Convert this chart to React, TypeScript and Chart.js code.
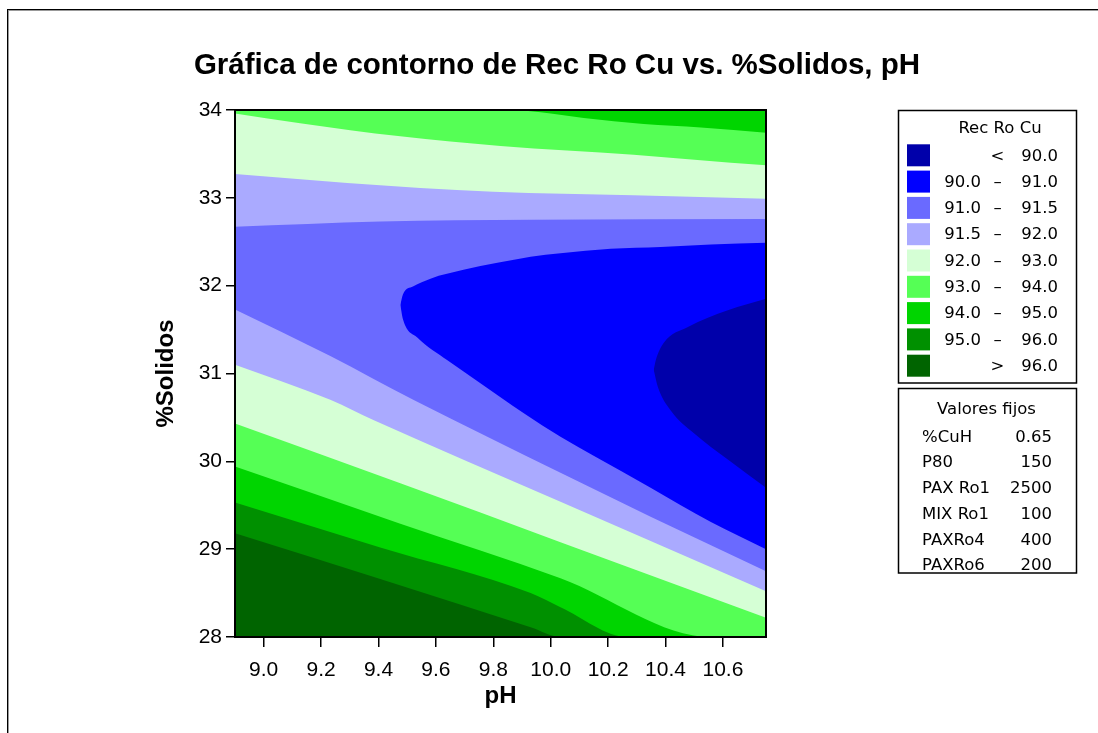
import React, { useEffect, useRef } from 'react';
import { Chart, registerables } from 'chart.js';

Chart.register(...registerables);

// ---------- texts ----------
const titleText = 'Gráfica de contorno de Rec Ro Cu vs. %Solidos, pH';
const xTitle = 'pH';
const yTitle = '%Solidos';

// ---------- axes ----------
const pHRange = [8.9, 10.75];
const solidosRange = [28, 34];
const pHTicks = [9.0, 9.2, 9.4, 9.6, 9.8, 10.0, 10.2, 10.4, 10.6];
const solidosTicks = [28, 29, 30, 31, 32, 33, 34];

// ---------- legend ----------
const legendTitle = 'Rec Ro Cu';
const levelLow = ['', '90.0', '91.0', '91.5', '92.0', '93.0', '94.0', '95.0', ''];
const levelSep = ['<', '–', '–', '–', '–', '–', '–', '–', '>'];
const levelHigh = ['90.0', '91.0', '91.5', '92.0', '93.0', '94.0', '95.0', '96.0', '96.0'];
const bandColors = ['#0000AA', '#0000FF', '#6A6AFF', '#AAAAFF', '#D5FFD5', '#55FF55', '#00D500', '#009000', '#006400'];

const fixedTitle = 'Valores fijos';
const fixedNames = ['%CuH', 'P80', 'PAX Ro1', 'MIX Ro1', 'PAXRo4', 'PAXRo6'];
const fixedValues = ['0.65', '150', '2500', '100', '400', '200'];

// ---------- contour boundaries (pH, %Solidos) ----------
type P = { x: number; y: number };
// lower-left diagonal contours
const contour96: P[] = [
  { x: 8.9, y: 29.18 }, { x: 9.406, y: 28.66 }, { x: 9.93, y: 28.11 }, { x: 10.034, y: 28.0 }, { x: 10.75, y: 28.0 },
];
const contour95: P[] = [
  { x: 8.9, y: 29.53 }, { x: 9.406, y: 29.02 }, { x: 9.93, y: 28.5 }, { x: 10.034, y: 28.34 }, { x: 10.27, y: 28.0 }, { x: 10.75, y: 28.0 },
];
const contour94: P[] = [
  { x: 8.9, y: 29.94 }, { x: 9.476, y: 29.29 }, { x: 10.034, y: 28.67 }, { x: 10.56, y: 28.0 }, { x: 10.75, y: 28.0 },
];
const contour93: P[] = [
  { x: 8.9, y: 30.43 }, { x: 9.476, y: 29.75 }, { x: 10.034, y: 29.08 }, { x: 10.75, y: 28.22 },
];
const contour92Low: P[] = [
  { x: 8.9, y: 31.1 }, { x: 9.232, y: 30.7 }, { x: 9.382, y: 30.47 }, { x: 10.034, y: 29.54 }, { x: 10.75, y: 28.52 },
];
const contour915Low: P[] = [
  { x: 8.9, y: 31.73 }, { x: 9.232, y: 31.2 }, { x: 9.521, y: 30.7 }, { x: 10.034, y: 29.87 }, { x: 10.348, y: 29.37 }, { x: 10.75, y: 28.75 },
];
// upper near-horizontal contours
const contour915High: P[] = [
  { x: 8.9, y: 32.67 }, { x: 9.406, y: 32.73 }, { x: 9.93, y: 32.75 }, { x: 10.75, y: 32.76 },
];
const contour92High: P[] = [
  { x: 8.9, y: 33.27 }, { x: 9.291, y: 33.17 }, { x: 9.8, y: 33.07 }, { x: 10.289, y: 33.03 }, { x: 10.75, y: 32.99 },
];
const contour93High: P[] = [
  { x: 8.9, y: 33.96 }, { x: 9.127, y: 33.85 }, { x: 9.476, y: 33.7 }, { x: 9.825, y: 33.59 }, { x: 10.289, y: 33.49 }, { x: 10.628, y: 33.4 }, { x: 10.75, y: 33.37 },
];
const contour94High: P[] = [
  { x: 8.9, y: 34.0 }, { x: 9.86, y: 34.0 }, { x: 10.0, y: 33.96 }, { x: 10.115, y: 33.91 }, { x: 10.324, y: 33.84 }, { x: 10.523, y: 33.8 }, { x: 10.75, y: 33.74 },
];
// 91.0 contour (sideways parabola) – upper and lower branches
const contour91Upper: P[] = [
  { x: 9.476, y: 31.78 }, { x: 9.485, y: 31.9 }, { x: 9.52, y: 31.99 }, { x: 9.581, y: 32.08 }, { x: 9.696, y: 32.18 },
  { x: 9.814, y: 32.26 }, { x: 9.93, y: 32.33 }, { x: 10.034, y: 32.37 }, { x: 10.209, y: 32.42 }, { x: 10.383, y: 32.44 },
  { x: 10.558, y: 32.47 }, { x: 10.75, y: 32.49 },
];
const contour91Lower: P[] = [
  { x: 9.476, y: 31.78 }, { x: 9.486, y: 31.61 }, { x: 9.535, y: 31.41 }, { x: 9.64, y: 31.15 }, { x: 9.755, y: 30.89 },
  { x: 9.905, y: 30.55 }, { x: 10.034, y: 30.28 }, { x: 10.151, y: 30.06 }, { x: 10.348, y: 29.7 }, { x: 10.558, y: 29.31 },
  { x: 10.75, y: 29.0 },
];
// 90.0 contour – upper and lower branches
const contour90Upper: P[] = [
  { x: 10.359, y: 31.04 }, { x: 10.366, y: 31.15 }, { x: 10.394, y: 31.35 }, { x: 10.478, y: 31.53 }, { x: 10.617, y: 31.72 }, { x: 10.75, y: 31.85 },
];
const contour90Lower: P[] = [
  { x: 10.359, y: 31.04 }, { x: 10.373, y: 30.85 }, { x: 10.418, y: 30.58 }, { x: 10.499, y: 30.32 }, { x: 10.617, y: 30.02 }, { x: 10.75, y: 29.7 },
];

// ---------- build datasets (painter's order) ----------
type Layer = { data: P[]; fill: any; color: string };
const layers: Layer[] = [
  { data: contour96, fill: 'end', color: bandColors[7] },
  { data: contour95, fill: 'end', color: bandColors[6] },
  { data: contour94, fill: 'end', color: bandColors[5] },
  { data: contour93, fill: 'end', color: bandColors[4] },
  { data: contour92Low, fill: 'end', color: bandColors[3] },
  { data: contour915Low, fill: 'end', color: bandColors[2] },
  { data: contour915High, fill: 'end', color: bandColors[3] },
  { data: contour92High, fill: 'end', color: bandColors[4] },
  { data: contour93High, fill: 'end', color: bandColors[5] },
  { data: contour94High, fill: 'end', color: bandColors[6] },
  { data: contour91Upper, fill: 11, color: bandColors[1] },
  { data: contour91Lower, fill: false, color: 'transparent' },
  { data: contour90Upper, fill: 13, color: bandColors[0] },
  { data: contour90Lower, fill: false, color: 'transparent' },
];

const tickFont = { family: '"Liberation Sans", Arial, sans-serif', size: 21 };
const axisTitleFont = { family: '"Liberation Sans", Arial, sans-serif', size: 24, weight: 'bold' as const };
const legendFont = '16.5px "DejaVu Sans", sans-serif';

const decorPlugin = {
  id: 'decor',
  beforeDatasetsDraw(chart: any) {
    const { ctx, chartArea: a } = chart;
    ctx.save();
    ctx.fillStyle = bandColors[8];
    ctx.fillRect(a.left, a.top, a.right - a.left, a.bottom - a.top);
    ctx.restore();
  },
  afterDatasetsDraw(chart: any) {
    const { ctx, chartArea: a } = chart;
    ctx.save();
    ctx.strokeStyle = '#000';
    ctx.lineWidth = 2;
    ctx.strokeRect(a.left, a.top, a.right - a.left, a.bottom - a.top);
    ctx.restore();
  },
  afterDraw(chart: any) {
    const { ctx } = chart;
    ctx.save();
    // page frame
    ctx.fillStyle = '#000';
    ctx.fillRect(7, 9, 1, 733);
    ctx.fillRect(7, 9, 1098, 1);
    ctx.fillStyle = '#999';
    ctx.fillRect(8, 10, 1, 733);
    ctx.fillRect(8, 10, 1098, 1);

    // title
    ctx.fillStyle = '#000';
    ctx.font = 'bold 29.5px "Liberation Sans", Arial, sans-serif';
    ctx.textAlign = 'center';
    ctx.textBaseline = 'middle';
    ctx.fillText(titleText, 557, 66);

    // legend box 1
    ctx.lineWidth = 1.5;
    ctx.strokeStyle = '#000';
    ctx.strokeRect(898.5, 110.5, 178, 272.5);
    ctx.font = legendFont;
    ctx.textAlign = 'center';
    ctx.fillText(legendTitle, 1000, 129);
    for (let i = 0; i < bandColors.length; i++) {
      const y = 155.3 + 26.3 * i;
      ctx.fillStyle = bandColors[i];
      ctx.fillRect(907, y - 11, 23, 22);
      ctx.fillStyle = '#000';
      ctx.textAlign = 'right';
      if (levelLow[i]) ctx.fillText(levelLow[i], 981, y + 1);
      ctx.fillText(levelHigh[i], 1058, y + 1);
      ctx.textAlign = 'center';
      ctx.fillText(levelSep[i], 997.5, y + 1);
    }

    // legend box 2
    ctx.strokeRect(898.5, 388.5, 178, 184.5);
    ctx.textAlign = 'center';
    ctx.fillText(fixedTitle, 986.5, 410);
    for (let i = 0; i < fixedNames.length; i++) {
      const y = 437.5 + 25.7 * i;
      ctx.textAlign = 'left';
      ctx.fillText(fixedNames[i], 922, y);
      ctx.textAlign = 'right';
      ctx.fillText(fixedValues[i], 1052, y);
    }
    ctx.restore();
  },
};

export default function App() {
  const ref = useRef<HTMLCanvasElement | null>(null);

  useEffect(() => {
    const canvas = ref.current;
    if (!canvas) return;
    const n = layers.length;
    const chart = new Chart(canvas, {
      type: 'line',
      data: {
        datasets: layers.map((l, i) => ({
          data: l.data,
          fill: l.fill,
          backgroundColor: l.color,
          borderColor: 'transparent',
          borderWidth: 0,
          pointRadius: 0,
          pointHoverRadius: 0,
          cubicInterpolationMode: 'monotone' as const,
          order: n - i,
        })),
      },
      options: {
        responsive: false,
        animation: false,
        events: [],
        layout: { padding: { left: 152, right: 332, top: 110, bottom: 22 } },
        plugins: {
          legend: { display: false },
          tooltip: { enabled: false },
          title: { display: false },
        },
        scales: {
          x: {
            type: 'linear',
            min: pHRange[0],
            max: pHRange[1],
            afterBuildTicks: (s: any) => {
              s.ticks = pHTicks.map((v) => ({ value: v }));
            },
            afterFit: (s: any) => {
              s.height = 74;
            },
            ticks: {
              callback: (v: any) => Number(v).toFixed(1),
              font: tickFont,
              color: '#000',
              padding: 11,
              maxRotation: 0,
              autoSkip: false,
            },
            grid: { drawOnChartArea: false, drawTicks: true, tickLength: 10, color: '#000', lineWidth: 1.5 },
            border: { display: true, color: '#000', width: 2 },
            title: { display: true, text: xTitle, font: axisTitleFont, color: '#000', padding: 0 },
          },
          y: {
            type: 'linear',
            min: solidosRange[0],
            max: solidosRange[1],
            afterBuildTicks: (s: any) => {
              s.ticks = solidosTicks.map((v) => ({ value: v }));
            },
            afterFit: (s: any) => {
              s.width = 83;
            },
            ticks: {
              callback: (v: any) => String(v),
              font: tickFont,
              color: '#000',
              padding: 4,
              autoSkip: false,
            },
            grid: { drawOnChartArea: false, drawTicks: true, tickLength: 9, color: '#000', lineWidth: 1.5 },
            border: { display: true, color: '#000', width: 2 },
            title: { display: true, text: yTitle, font: axisTitleFont, color: '#000', padding: 0 },
          },
        },
      },
      plugins: [decorPlugin],
    } as any);
    return () => chart.destroy();
  }, []);

  return (
    <div style={{ position: 'absolute', left: 0, top: 0, width: 1098, height: 733 }}>
      <canvas ref={ref} width={1098} height={733} style={{ display: 'block', width: 1098, height: 733 }} />
    </div>
  );
}
